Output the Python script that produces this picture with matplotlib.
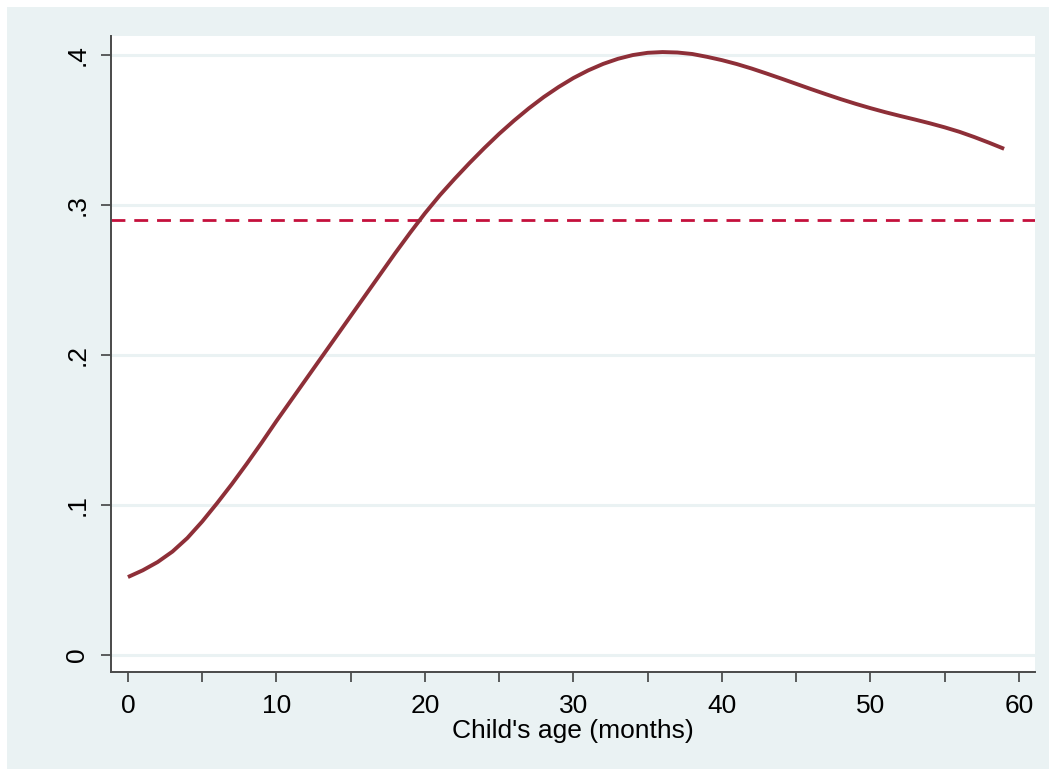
import matplotlib.pyplot as plt
from matplotlib.patches import Rectangle

# child's age in months and the smoothed curve
age = list(range(0, 60))
share = [0.052, 0.0565, 0.062, 0.069, 0.078, 0.089, 0.1012, 0.114, 0.1275, 0.1415,
         0.156, 0.170, 0.184, 0.198, 0.212, 0.226, 0.240, 0.254, 0.268, 0.2815,
         0.2945, 0.3065, 0.3175, 0.328, 0.338, 0.3475, 0.3563, 0.3645, 0.372, 0.3787,
         0.3847, 0.3898, 0.3941, 0.3975, 0.400, 0.4015, 0.402, 0.4017, 0.4007, 0.3988,
         0.3966, 0.394, 0.391, 0.3877, 0.3843, 0.3808, 0.3773, 0.3739, 0.3706, 0.3675,
         0.3646, 0.3619, 0.3594, 0.357, 0.3545, 0.3518, 0.3488, 0.3453, 0.3415, 0.3375]
mean_line = 0.29

x_ticks = [0, 5, 10, 15, 20, 25, 30, 35, 40, 45, 50, 55, 60]
x_labels = ['0', '', '10', '', '20', '', '30', '', '40', '', '50', '', '60']
y_ticks = [0, 0.1, 0.2, 0.3, 0.4]
y_labels = ['0', '.1', '.2', '.3', '.4']

plt.rcParams['font.family'] = ['Liberation Sans', 'DejaVu Sans']

bg = '#EAF2F3'
fig = plt.figure(figsize=(10.49, 7.69), dpi=100)
fig.patch.set_facecolor('white')
fig.patches.append(Rectangle((7 / 1049, 0), 1, 1 - 7 / 769, transform=fig.transFigure,
                             facecolor=bg, edgecolor='none', zorder=-10))

ax = fig.add_axes([111 / 1049, 1 - 672 / 769, (1035 - 111) / 1049, (672 - 36) / 769])
ax.set_facecolor('white')

for yv in y_ticks:
    ax.axhline(yv, color=bg, lw=2.2, zorder=1)

ax.axhline(mean_line, color='#C4103C', lw=2.0, ls=(0, (5, 3.2)), zorder=2)
ax.plot(age, share, color='#8E2F38', lw=2.8, zorder=3, solid_capstyle='butt')

ax.set_xlim(-1.14, 61.08)
ax.set_ylim(-0.0113, 0.4127)
ax.set_xticks(x_ticks)
ax.set_xticklabels(x_labels)
ax.set_yticks(y_ticks)
ax.set_yticklabels(y_labels, rotation=90, va='center')

for s in ['top', 'right']:
    ax.spines[s].set_visible(False)
for s in ['left', 'bottom']:
    ax.spines[s].set_color('#4a4a4a')
    ax.spines[s].set_linewidth(1.4)

ax.tick_params(axis='both', length=7.5, width=1.1, color='#333333', labelsize=19, pad=8)
ax.set_xlabel("Child's age (months)", fontsize=19, labelpad=1)

fig.savefig('out.png', dpi=100, facecolor=fig.get_facecolor())
